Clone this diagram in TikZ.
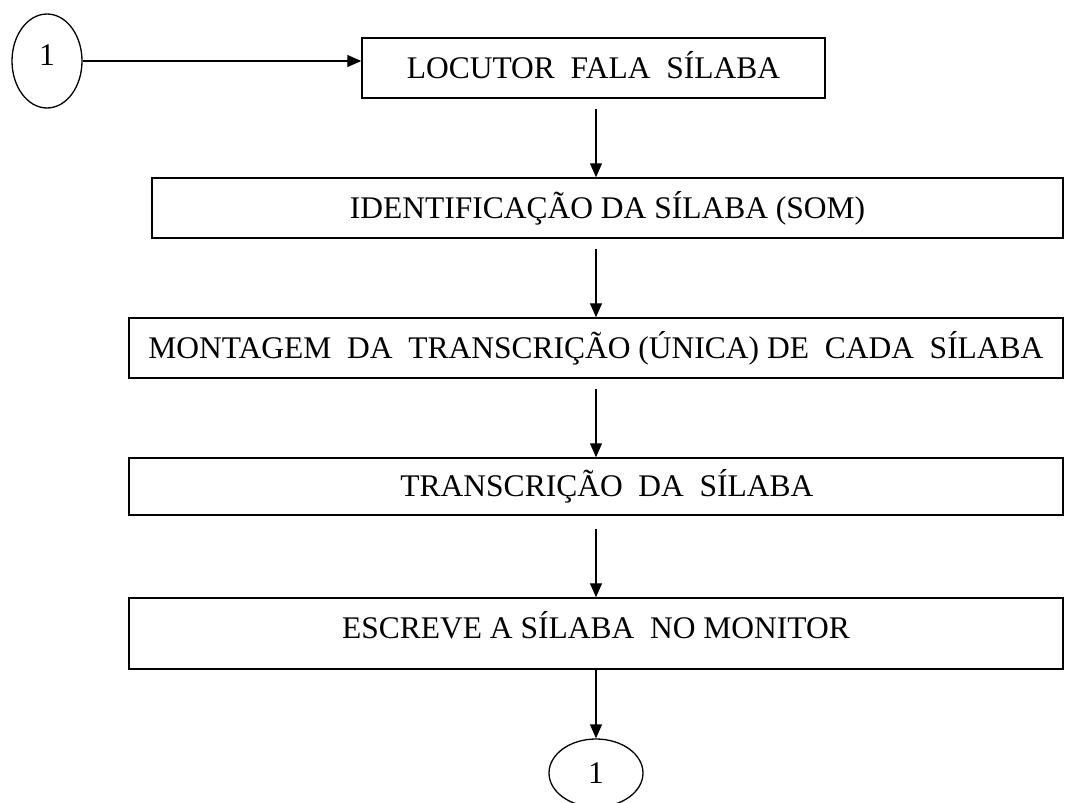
\documentclass[tikz,border=0pt]{standalone}
\usepackage{fontspec}
\setmainfont{Liberation Serif}
\usetikzlibrary{arrows.meta,shapes.geometric}
\begin{document}
\begin{tikzpicture}[x=1pt,y=-1pt,
  box/.style={draw, line width=1.5pt, rectangle, inner sep=0pt, text height=20.5pt, text depth=0pt,
    font=\fontsize{31.5}{36}\selectfont},
  conn/.style={draw, ellipse, line width=1.3pt, inner sep=0pt, text height=20.5pt, text depth=0pt,
    font=\fontsize{31.5}{36}\selectfont},
  arr/.style={line width=1.3pt, -{Triangle[length=14pt,width=12pt]}}]
\useasboundingbox (0,0) rectangle (1074,803);
\fill[white] (0,0) rectangle (1074,803);
\coordinate (axis) at (596,0);
\node[conn, minimum width=70pt, minimum height=94pt] (e1) at (47,61) {\raisebox{6pt}{1}};
\node[box, minimum width=463pt, minimum height=60pt] (b1) at (593.5,68) {LOCUTOR\ \ FALA\ \ SÍLABA};
\node[box, minimum width=911pt, minimum height=60pt] (b2) at (607.5,208) {IDENTIFICAÇÃO DA SÍLABA (SOM)};
\node[box, minimum width=934pt, minimum height=60pt] (b3) at (596,348) {MONTAGEM\ \ DA\ \ TRANSCRIÇÃO (ÚNICA) DE\ \ CADA\ \ SÍLABA};
\node[box, minimum width=934pt, minimum height=57pt] (b4) at (596,486.5) {\hspace*{22pt}TRANSCRIÇÃO\ \ DA\ \ SÍLABA};
\node[box, minimum width=934pt, minimum height=71pt, text depth=10pt] (b5) at (596,633.5) {ESCREVE A SÍLABA\ \ NO MONITOR};
\node[conn, minimum width=94pt, minimum height=68pt] (e2) at (596,773) {1};
\draw[arr] (e1.east) -- (e1.east -| b1.west);
\draw[arr, shorten <=10pt] (b1.south -| axis) -- (b2.north -| axis);
\draw[arr, shorten <=10pt] (b2.south -| axis) -- (b3.north -| axis);
\draw[arr, shorten <=10pt] (b3.south -| axis) -- (b4.north -| axis);
\draw[arr, shorten <=13pt] (b4.south -| axis) -- (b5.north -| axis);
\draw[arr] (b5.south -| axis) -- (e2.north);
\end{tikzpicture}
\end{document}
